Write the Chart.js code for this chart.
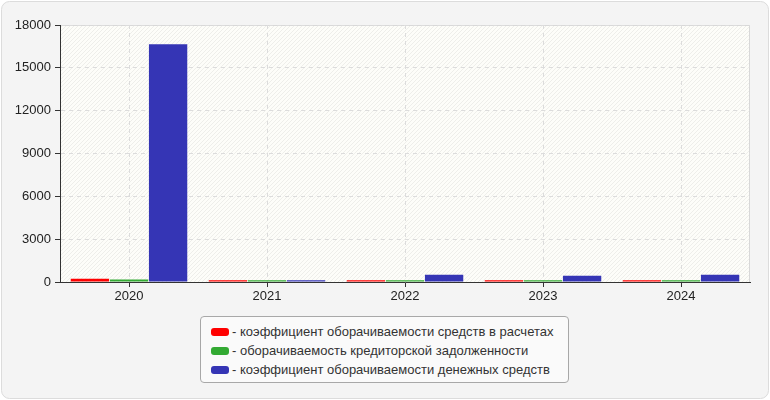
<!DOCTYPE html>
<html>
<head>
<meta charset="utf-8">
<script src="https://cdn.jsdelivr.net/npm/chart.js@4/dist/chart.umd.min.js"></script>
<style>
  html, body { margin: 0; padding: 0; background: #fff; }
  #wrap { position: relative; width: 770px; height: 400px; }
  #legend {
    position: absolute; left: 200px; top: 316px; width: 367px; height: 65px;
    background: #fafafa; border: 1px solid #a8a8a8; border-radius: 4px;
    font: 13px "Liberation Sans", Arial, sans-serif; color: #333;
  }
  #legend .row { position: absolute; left: 10px; height: 19px; line-height: 19px; white-space: nowrap; }
  #legend .sw { display: inline-block; width: 18px; height: 8px; border-radius: 3px; vertical-align: middle; margin-right: 3px; position: relative; top: -1px; }
</style>
</head>
<body>
<div id="wrap">
  <canvas id="chart" width="770" height="400"></canvas>
  <div id="legend"></div>
</div>
<script>
const years = ["2020", "2021", "2022", "2023", "2024"];
const settlementsTurnover = [230, 130, 130, 130, 130];
const payablesTurnover = [170, 130, 130, 130, 130];
const cashTurnover = [16650, 130, 510, 440, 510];
const seriesNames = [
  "коэффициент оборачиваемости средств в расчетах",
  "оборачиваемость кредиторской задолженности",
  "коэффициент оборачиваемости денежных средств"
];
const seriesColors = ["#ff0000", "#33aa33", "#3535b5"];
const yTicks = [0, 3000, 6000, 9000, 12000, 15000, 18000];

// legend as html
const legendEl = document.getElementById("legend");
seriesNames.forEach((name, i) => {
  const row = document.createElement("div");
  row.className = "row";
  row.style.top = (5 + i * 19) + "px";
  row.innerHTML = '<span class="sw" style="background:' + seriesColors[i] + '"></span>- ' + name;
  legendEl.appendChild(row);
});

// hatch pattern for plot area
const pat = document.createElement("canvas");
pat.width = 4; pat.height = 4;
const pctx = pat.getContext("2d");
pctx.strokeStyle = "rgba(0,0,0,0.06)";
pctx.lineWidth = 1;
pctx.beginPath();
pctx.moveTo(-1, 5); pctx.lineTo(5, -1);
pctx.stroke();

const background = {
  id: "background",
  beforeDraw(chart) {
    const ctx = chart.ctx;
    const a = chart.chartArea;
    ctx.save();
    ctx.fillStyle = "#fff";
    ctx.fillRect(0, 0, chart.width, chart.height);
    ctx.beginPath();
    ctx.roundRect(1.5, 1.5, chart.width - 3, chart.height - 3, 8);
    ctx.fillStyle = "#f4f4f4";
    ctx.fill();
    ctx.strokeStyle = "#dcdcdc";
    ctx.lineWidth = 1;
    ctx.stroke();
    ctx.fillStyle = "#fdfdf9";
    ctx.fillRect(a.left, a.top, a.right - a.left, a.bottom - a.top);
    ctx.fillStyle = ctx.createPattern(pat, "repeat");
    ctx.fillRect(a.left, a.top, a.right - a.left, a.bottom - a.top);
    ctx.strokeStyle = "#d8d8d8";
    ctx.beginPath();
    ctx.moveTo(a.left, a.top + 0.5);
    ctx.lineTo(a.right - 0.5, a.top + 0.5);
    ctx.lineTo(a.right - 0.5, a.bottom);
    ctx.stroke();
    ctx.restore();
  }
};

const tickFont = { size: 13, family: "'Liberation Sans', Arial" };

const ctx = document.getElementById("chart").getContext("2d");
new Chart(ctx, {
  type: "bar",
  data: {
    labels: years,
    datasets: [
      { label: seriesNames[0], data: settlementsTurnover, backgroundColor: seriesColors[0] },
      { label: seriesNames[1], data: payablesTurnover, backgroundColor: seriesColors[1] },
      { label: seriesNames[2], data: cashTurnover, backgroundColor: seriesColors[2] }
    ]
  },
  options: {
    responsive: false,
    animation: false,
    layout: { padding: { left: 0, right: 20, top: 25, bottom: 0 } },
    datasets: { bar: { categoryPercentage: 0.85, barPercentage: 0.98 } },
    plugins: { legend: { display: false }, tooltip: { enabled: false } },
    scales: {
      x: {
        afterFit: (s) => { s.height = 118; },
        grid: { offset: false, color: "#dcdcdc", tickColor: "#333", tickLength: 5, tickBorderDash: [] },
        border: { color: "#333", width: 1, dash: [4, 4] },
        ticks: { color: "#222", font: tickFont, padding: 2 }
      },
      y: {
        min: 0,
        max: 18000,
        afterFit: (s) => { s.width = 60; },
        afterBuildTicks: (s) => { s.ticks = yTicks.map((v) => ({ value: v })); },
        grid: { color: "#dcdcdc", tickColor: "#333", tickLength: 5, tickBorderDash: [] },
        border: { color: "#333", width: 1, dash: [4, 4] },
        ticks: { color: "#222", font: tickFont, padding: 4, callback: (v) => String(v) }
      }
    }
  },
  plugins: [background]
});
</script>
</body>
</html>
